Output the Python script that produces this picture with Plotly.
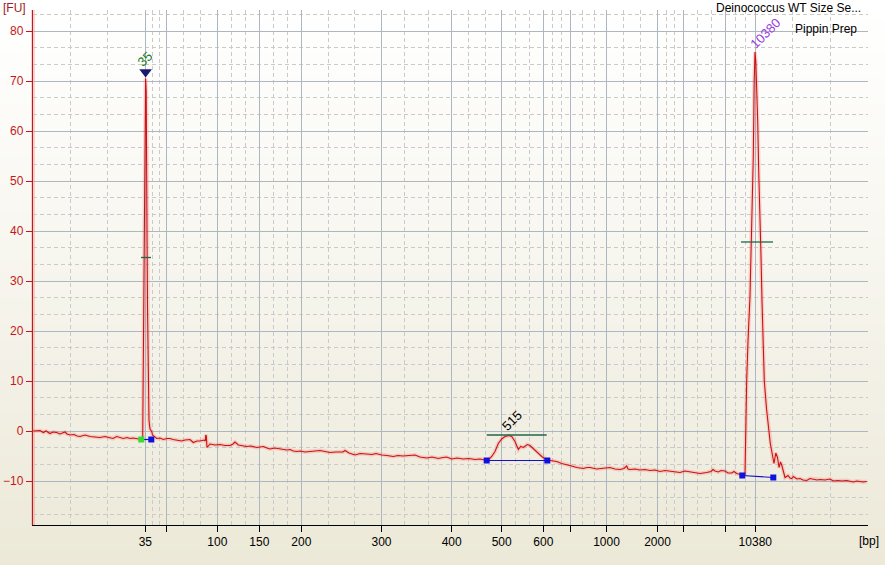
import base64
import struct
import zlib
import plotly.graph_objects as go

# ---------------- data ----------------
# size ladder: migration time (s) of each labelled / unlabelled ladder tick
tick_sizes = [35, 50, 100, 150, 200, 300, 400, 500, 600, 700, 1000, 2000, 3000, 7000, 10380]
tick_times = [42.53, 44.63, 49.73, 53.93, 58.13, 66.15, 73.17, 78.17, 82.33, 85.0,
              88.65, 93.75, 96.33, 100.53, 103.53]
tick_labels = ["35", "", "100", "150", "200", "300", "400", "500", "600", "",
               "1000", "2000", "", "", "10380"]
time_range = [31.3, 114.8]

fu_ticks = [-10, 0, 10, 20, 30, 40, 50, 60, 70, 80]
fu_range = [-18.8, 84.2]

time_s = [
    31.33, 32.0, 32.33, 32.6, 33.0, 33.3, 33.67, 34.0, 34.5, 34.7,
    35.0, 35.4, 35.7, 36.0, 36.5, 36.8, 37.0, 37.5, 38.0, 38.5,
    39.0, 39.3, 39.67, 40.0, 40.33, 40.7, 41.0, 41.3, 41.67, 42.0,
    42.13, 42.27, 42.30, 42.38, 42.43, 42.47, 42.52, 42.56, 42.62, 42.67,
    42.70, 42.75, 42.82, 42.90, 43.0, 43.17, 43.25, 43.4, 43.67, 44.0,
    44.33, 44.7, 45.0, 45.3, 45.67, 46.17, 46.5, 47.0, 47.33, 47.7,
    48.0, 48.4, 48.53, 48.57, 48.63, 48.7, 49.0, 49.5, 50.0, 50.5,
    51.0, 51.3, 51.5, 51.83, 52.2, 52.67, 53.1, 53.67, 54.0, 54.33,
    54.7, 55.0, 55.5, 56.0, 56.4, 56.67, 57.0, 57.33, 57.7, 58.0,
    58.5, 59.0, 59.5, 60.0, 60.5, 61.0, 61.6, 62.3, 62.5, 62.9,
    63.5, 64.0, 64.67, 65.2, 65.6, 66.17, 66.7, 67.33, 67.8, 68.3,
    68.9, 69.5, 70.0, 70.67, 71.2, 71.83, 72.3, 72.67, 73.17, 73.7,
    74.33, 74.9, 75.5, 76.0, 76.5, 76.83, 77.17, 77.5, 77.83, 78.17,
    78.5, 78.9, 79.17, 79.5, 79.83, 80.07, 80.33, 80.73, 81.0, 81.33,
    81.73, 82.17, 82.67, 83.17, 83.67, 84.17, 84.67, 85.17, 85.67, 86.33,
    86.7, 87.0, 87.67, 88.0, 88.5, 89.0, 89.5, 90.0, 90.4, 90.67,
    90.8, 91.0, 91.5, 92.0, 92.5, 93.0, 93.5, 94.0, 94.5, 95.0,
    95.5, 96.0, 96.5, 97.0, 97.5, 98.0, 98.67, 99.1, 99.3, 99.5,
    99.83, 100.1, 100.5, 100.8, 101.17, 101.4, 101.67, 102.0, 102.23, 102.5,
    102.57, 102.67, 102.8, 103.0, 103.13, 103.23, 103.33, 103.42, 103.5, 103.58,
    103.67, 103.77, 103.87, 104.0, 104.1, 104.2, 104.32, 104.43, 104.65, 104.87,
    105.03, 105.17, 105.3, 105.4, 105.58, 105.75, 105.9, 106.05, 106.2, 106.35,
    106.5, 106.8, 107.0, 107.17, 107.33, 107.7, 108.0, 108.3, 108.67, 109.0,
    109.33, 109.7, 110.0, 110.5, 111.0, 111.33, 111.8, 112.2, 112.67, 113.0,
    113.33, 113.7, 114.0, 114.3, 114.67,
]

fu = [
    0.0, 0.1, -0.3, 0.0, -0.5, -0.2, -0.3, -0.6, -0.2, -0.6,
    -0.8, -0.7, -1.0, -1.1, -0.8, -1.0, -1.1, -1.2, -1.3, -1.1,
    -1.3, -1.5, -1.1, -1.3, -1.5, -1.3, -1.5, -1.4, -1.6, -1.7,
    -1.7, -1.5, 5.0, 20.0, 35.0, 52.0, 66.0, 70.5, 68.0, 58.0,
    40.0, 25.0, 12.0, 2.1, 0.4, -0.1, -0.8, -1.1, -1.5, -1.4,
    -1.7, -1.5, -1.5, -1.7, -1.8, -2.0, -1.8, -1.7, -2.3, -2.0,
    -2.0, -1.8, -2.0, -0.8, -1.0, -3.3, -2.6, -2.8, -2.7, -2.9,
    -2.9, -2.6, -2.2, -2.8, -2.9, -3.1, -3.0, -3.3, -3.2, -3.1,
    -3.4, -3.6, -3.4, -3.6, -3.7, -3.8, -3.7, -4.0, -4.1, -4.0,
    -4.2, -4.1, -4.0, -3.9, -4.1, -4.3, -4.2, -4.2, -3.9, -4.4,
    -4.8, -4.5, -4.6, -4.7, -4.5, -4.8, -4.9, -5.1, -4.9, -5.0,
    -4.9, -4.8, -5.2, -5.4, -5.2, -5.5, -5.3, -5.2, -5.6, -5.4,
    -5.6, -5.5, -5.7, -5.6, -5.8, -5.8, -5.1, -4.1, -2.5, -1.6,
    -1.1, -0.9, -1.1, -2.1, -3.7, -3.1, -3.3, -2.7, -2.9, -3.5,
    -4.1, -5.1, -5.8, -5.9, -6.1, -6.5, -6.7, -7.0, -7.3, -7.5,
    -7.3, -7.3, -7.6, -7.5, -7.4, -7.3, -7.6, -7.7, -7.5, -7.0,
    -7.6, -7.7, -7.6, -7.8, -7.7, -7.9, -7.8, -8.1, -7.9, -8.0,
    -8.2, -8.3, -8.0, -8.2, -8.3, -8.5, -8.3, -8.1, -7.7, -8.0,
    -8.2, -7.9, -8.0, -8.4, -8.4, -8.1, -8.5, -8.6, -8.8, -8.6,
    3.6, 10.2, 18.0, 27.0, 38.0, 46.0, 55.0, 70.0, 75.8, 74.0,
    69.0, 62.0, 52.0, 44.0, 35.0, 26.0, 17.0, 10.0, 4.5, 0.2,
    -2.5, -4.0, -5.8, -6.5, -4.4, -5.3, -7.3, -6.2, -7.0, -8.0,
    -9.3, -8.9, -9.4, -9.5, -9.1, -9.6, -9.5, -9.8, -9.9, -9.5,
    -9.6, -9.8, -9.7, -9.8, -9.6, -10.0, -9.9, -10.0, -9.9, -10.1,
    -10.2, -10.0, -10.1, -10.2, -10.1,
]

# peak table
peak_labels = ["35", "515", "10380"]
peak_time = [42.56, 78.9, 103.5]
peak_fu = [70.5, -0.9, 75.8]
peak_start_time = [42.13, 76.67, 102.23]
peak_end_time = [43.13, 82.73, 105.33]
peak_start_fu = [-1.7, -5.9, -8.9]
peak_end_fu = [-1.7, -5.9, -9.3]
# width bars (half height / region top)
bar_start_time = [42.1, 76.67, 102.1]
bar_end_time = [43.1, 82.67, 105.3]
bar_fu = [34.7, -0.8, 37.8]

sample_title = "Deinococcus WT Size Se..."
sample_subtitle = "Pippin Prep"

# ---------------- styles ----------------
W, H = 885, 565
ML, MR, MT, MB = 33, 17, 10, 40
PW, PH = W - ML - MR, H - MT - MB
FONT = "Liberation Sans, Arial, sans-serif"
RED = "#C41818"
label_colors = ["#1E7A1E", "#000000", "#9A3FE0"]
label_shift = [(-1, 19), (3, 15), (10, 19)]


def gradient_png(h, top, bottom):
    raw = b""
    for i in range(h):
        f = (i / (h - 1)) ** 1.1
        c = bytes(round(top[k] + (bottom[k] - top[k]) * f) for k in range(3))
        raw += b"\x00" + c

    def chunk(tag, data):
        return (struct.pack(">I", len(data)) + tag + data +
                struct.pack(">I", zlib.crc32(tag + data) & 0xFFFFFFFF))

    png = (b"\x89PNG\r\n\x1a\n" +
           chunk(b"IHDR", struct.pack(">IIBBBBB", 1, h, 8, 2, 0, 0, 0)) +
           chunk(b"IDAT", zlib.compress(raw)) + chunk(b"IEND", b""))
    return "data:image/png;base64," + base64.b64encode(png).decode()


# minor grid: thirds between consecutive major lines
bounds = [time_range[0]] + tick_times + [time_range[1]]
x_minor = []
for a, b in zip(bounds[:-1], bounds[1:]):
    x_minor += [a + (b - a) / 3, a + 2 * (b - a) / 3]
y_minor = [k * 10 / 3 for k in range(-6, 27)
           if k % 3 != 0 and fu_range[0] <= k * 10 / 3 <= fu_range[1]]

fig = go.Figure()

# glow + trace
fig.add_trace(go.Scatter(x=time_s, y=fu, mode="lines",
                         line=dict(color="rgba(235,90,90,0.22)", width=4),
                         hoverinfo="skip", showlegend=False))
fig.add_trace(go.Scatter(x=time_s, y=fu, mode="lines",
                         line=dict(color="#D01010", width=1.1),
                         showlegend=False))

# width bars
for i in range(len(peak_labels)):
    fig.add_trace(go.Scatter(x=[bar_start_time[i], bar_end_time[i]], y=[bar_fu[i], bar_fu[i]],
                             mode="lines", line=dict(color="#22664A", width=1.3),
                             showlegend=False, hoverinfo="skip"))

# baselines with start/end markers
for i in range(len(peak_labels)):
    start_col = "#33DD33" if i == 0 else "#1010E0"
    fig.add_trace(go.Scatter(x=[peak_start_time[i], peak_end_time[i]],
                             y=[peak_start_fu[i], peak_end_fu[i]],
                             mode="lines+markers",
                             line=dict(color="#1010D0", width=1.2),
                             marker=dict(symbol="square", size=6,
                                         color=[start_col, "#1010E0"]),
                             showlegend=False, hoverinfo="skip"))

# marker above first peak
fig.add_trace(go.Scatter(x=[peak_time[0]], y=[peak_fu[0] + 1.3], mode="markers",
                         marker=dict(symbol="triangle-down", size=11, color="#1A1A70"),
                         showlegend=False, hoverinfo="skip"))

# peak labels
for i, lab in enumerate(peak_labels):
    fig.add_annotation(x=peak_time[i], y=peak_fu[i], text=lab, showarrow=False,
                       textangle=-45, xshift=label_shift[i][0], yshift=label_shift[i][1],
                       font=dict(family=FONT, size=13, color=label_colors[i]))

# text annotations
fig.add_annotation(xref="paper", yref="paper", x=(1 - ML) / PW, y=(PH + MT - 8) / PH,
                   xanchor="left", yanchor="middle", text="[FU]", showarrow=False,
                   font=dict(family=FONT, size=12, color="#A01C1C"))
fig.add_annotation(xref="paper", yref="paper", x=(857 - ML) / PW, y=(PH + MT - 541) / PH,
                   xanchor="left", yanchor="middle", text="[bp]", showarrow=False,
                   font=dict(family=FONT, size=12, color="#000000"))
fig.add_annotation(xref="paper", yref="paper", x=(863 - ML) / PW, y=(PH + MT - 8) / PH,
                   xanchor="right", yanchor="middle", text=sample_title, showarrow=False,
                   font=dict(family=FONT, size=12, color="#000000"))
fig.add_annotation(xref="paper", yref="paper", x=(859 - ML) / PW, y=(PH + MT - 29) / PH,
                   xanchor="right", yanchor="middle", text=sample_subtitle, showarrow=False,
                   font=dict(family=FONT, size=12, color="#000000"))

# y-axis glow
fig.add_shape(type="line", xref="paper", yref="paper", x0=0, x1=0, y0=0, y1=1,
              line=dict(color="rgba(220,90,90,0.25)", width=4), layer="below")

fig.update_layout(
    width=W, height=H, autosize=False,
    margin=dict(l=ML, r=MR, t=MT, b=MB, pad=0, autoexpand=False),
    paper_bgcolor="#F4F2EA", plot_bgcolor="rgba(0,0,0,0)",
    images=[dict(source=gradient_png(128, (255, 255, 255), (236, 233, 216)),
                 xref="paper", yref="paper", x=-ML / PW, y=1 + MT / PH,
                 sizex=W / PW, sizey=H / PH, sizing="stretch",
                 xanchor="left", yanchor="top", layer="below")],
    font=dict(family=FONT, size=12),
    xaxis=dict(range=time_range, tickmode="array", tickvals=tick_times, ticktext=tick_labels,
               showgrid=True, gridcolor="#AEB6C2", gridwidth=1, automargin=False,
               showline=True, linecolor="#000000", linewidth=1,
               ticks="outside", ticklen=6, tickcolor="#000000",
               tickfont=dict(family=FONT, size=12, color="#000000"),
               zeroline=False, fixedrange=True,
               minor=dict(tickmode="array", tickvals=x_minor, showgrid=True,
                          gridcolor="#CACACA", griddash="4px,3px", gridwidth=1, ticks="")),
    yaxis=dict(range=fu_range, tickmode="array", tickvals=fu_ticks,
               showgrid=True, gridcolor="#AEB6C2", gridwidth=1, automargin=False,
               showline=True, linecolor=RED, linewidth=1.3,
               ticks="outside", ticklen=6, tickcolor=RED,
               tickfont=dict(family=FONT, size=12, color=RED),
               zeroline=False, fixedrange=True,
               minor=dict(tickmode="array", tickvals=y_minor, showgrid=True,
                          gridcolor="#CACACA", griddash="4px,3px", gridwidth=1, ticks="")),
)

fig.write_html("out.html", config={"displayModeBar": False},
               post_script="document.body.style.margin='0';")
